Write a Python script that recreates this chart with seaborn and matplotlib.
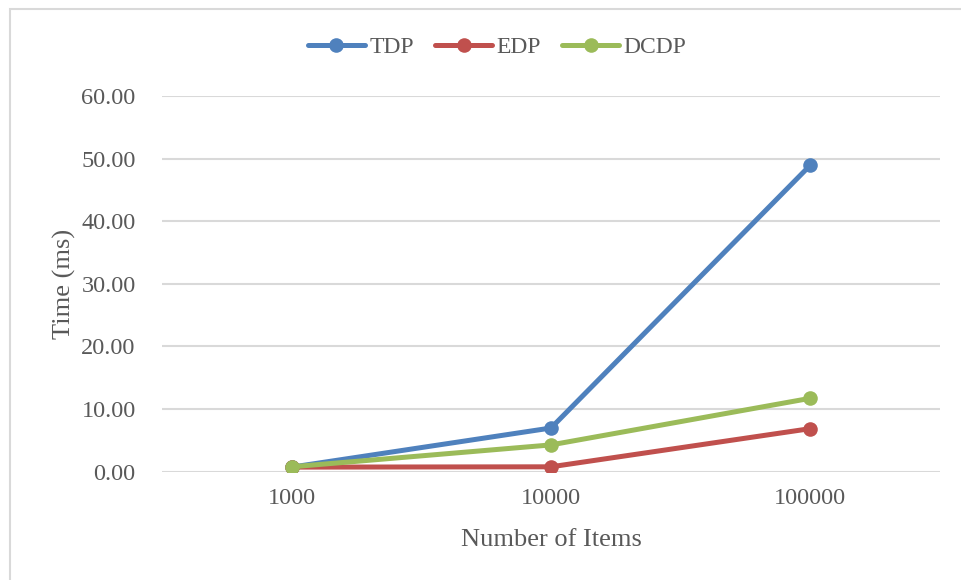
import matplotlib
matplotlib.use("Agg")
import matplotlib.pyplot as plt
import seaborn as sns
import pandas as pd
from matplotlib.patches import Rectangle

# Chart data
categories = ["1000", "10000", "100000"]
tdp = [0.70, 6.95, 48.95]
edp = [0.70, 0.75, 6.85]
dcdp = [0.75, 4.25, 11.70]
series_names = ["TDP", "EDP", "DCDP"]
y_ticks = [0, 10, 20, 30, 40, 50, 60]

rows = []
for name, vals in zip(series_names, [tdp, edp, dcdp]):
    for cat, v in zip(categories, vals):
        rows.append({"Number of Items": cat, "Time (ms)": v, "series": name})
df = pd.DataFrame(rows)

sns.set_theme(style="white")
plt.rcParams["font.family"] = ["Liberation Serif", "DejaVu Serif"]

text_color = "#595959"
grid_color = "#D9D9D9"
palette = {"TDP": "#4F81BD", "EDP": "#C0504D", "DCDP": "#9BBB59"}

fig = plt.figure(figsize=(9.61, 5.80), dpi=100)
fig.patch.set_facecolor("white")
# chart-area border (right and bottom edges fall outside the canvas)
fig.patches.append(Rectangle((9.5 / 961, -0.05), 1.1, 1 - 8.5 / 580 + 0.05,
                             transform=fig.transFigure, fill=False,
                             edgecolor=grid_color, linewidth=1.5, zorder=0))

ax = fig.add_axes([162 / 961, 1 - 471.5 / 580, (940 - 162) / 961, (471.5 - 96) / 580])

sns.lineplot(data=df, x="Number of Items", y="Time (ms)", hue="series",
             hue_order=series_names, palette=palette, marker="o",
             markersize=10.5, markeredgewidth=0, linewidth=3.6, ax=ax,
             sort=False, zorder=3)

ax.set_xlim(-0.5, len(categories) - 0.5)
ax.set_ylim(0, 60)
ax.set_yticks(y_ticks)
ax.set_yticklabels([f"{t:.2f}" for t in y_ticks])
ax.yaxis.grid(True, color=grid_color, linewidth=1.5)
ax.set_axisbelow(True)
for s in ax.spines.values():
    s.set_visible(False)
ax.tick_params(axis="both", length=0, labelsize=17.5, colors=text_color)
ax.tick_params(axis="y", pad=19)
ax.tick_params(axis="x", pad=12)

ax.set_xlabel("Number of Items", fontsize=19, color=text_color, labelpad=14)
ax.set_ylabel("Time (ms)", fontsize=19, color=text_color, labelpad=4)

leg = ax.legend(loc="upper center", bbox_to_anchor=(0.431, 1.215), ncol=3,
                frameon=False, fontsize=17, handlelength=2.4,
                columnspacing=0.9, handletextpad=0.2)
for t in leg.get_texts():
    t.set_color(text_color)
for h in leg.legend_handles:
    h.set_linewidth(3.6)
    h.set_markersize(10.5)

fig.savefig("out.png", dpi=100, facecolor="white")
